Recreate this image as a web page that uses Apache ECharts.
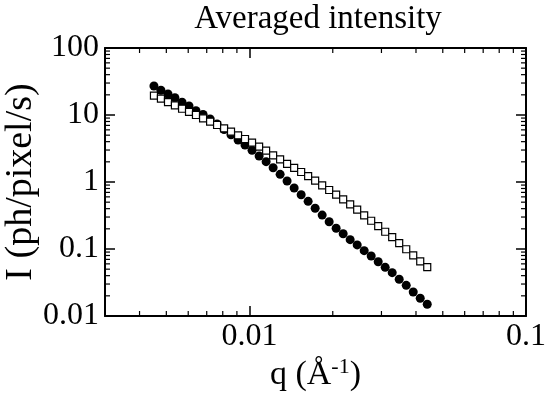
<!DOCTYPE html>
<html>
<head>
<meta charset="utf-8">
<script src="https://cdn.jsdelivr.net/npm/echarts@6/dist/echarts.min.js"></script>
<style>
  html, body { margin: 0; padding: 0; background: #fff; }
  #chart { width: 545px; height: 399px; }
</style>
</head>
<body>
<div id="chart"></div>
<script>
// q values (1/Å), shared by both series
const qValues = [
  0.00451, 0.00478, 0.00507, 0.00537, 0.00570, 0.00604, 0.00640, 0.00679, 0.00720, 0.00763,
  0.00809, 0.00857, 0.00909, 0.00963, 0.01021, 0.01083, 0.01148, 0.01217, 0.01290, 0.01367,
  0.01450, 0.01537, 0.01629, 0.01727, 0.01831, 0.01941, 0.02057, 0.02181, 0.02312, 0.02451,
  0.02598, 0.02754, 0.02920, 0.03095, 0.03281, 0.03478, 0.03688, 0.03909, 0.04144, 0.04393
];
// filled circles
const intensityFilled = [
  27.1, 23.4, 20.6, 18.1, 15.5, 13.6, 11.6, 10.2, 8.71, 7.34,
  6.08, 5.08, 4.24, 3.57, 2.97, 2.44, 2.01, 1.63, 1.30, 1.035,
  0.813, 0.646, 0.515, 0.405, 0.321, 0.255, 0.204, 0.169, 0.138, 0.115,
  0.0944, 0.0787, 0.0646, 0.0533, 0.0443, 0.0353, 0.0287, 0.0228, 0.0184, 0.0150
];
// open squares
const intensityOpen = [
  19.4, 17.5, 15.6, 13.96, 12.4, 11.1, 10.0, 8.93, 7.94, 7.09,
  6.33, 5.63, 4.98, 4.38, 3.86, 3.37, 2.93, 2.50, 2.17, 1.86,
  1.62, 1.41, 1.22, 1.045, 0.893, 0.760, 0.646, 0.552, 0.465, 0.386,
  0.318, 0.264, 0.220, 0.181, 0.150, 0.122, 0.0991, 0.0806, 0.0655, 0.0538
];
const xMin = 0.003, xMax = 0.1;
const yMin = 0.01, yMax = 100;
const xMajorLabels = [0.01, 0.1];
const yMajorLabels = [0.01, 0.1, 1, 10, 100];
const xMinorTicks = [0.004, 0.005, 0.006, 0.007, 0.008, 0.009,
  0.02, 0.03, 0.04, 0.05, 0.06, 0.07, 0.08, 0.09];
const yMinorTicks = [0.02, 0.03, 0.04, 0.05, 0.06, 0.07, 0.08, 0.09,
  0.2, 0.3, 0.4, 0.5, 0.6, 0.7, 0.8, 0.9,
  2, 3, 4, 5, 6, 7, 8, 9,
  20, 30, 40, 50, 60, 70, 80, 90];

const font = 'Liberation Serif';
const chart = echarts.init(document.getElementById('chart'));

function isLabel(list, v) {
  return list.some(t => Math.abs(Math.log10(t) - Math.log10(v)) < 1e-6);
}
function fmt(v) {
  return v >= 1 ? String(Math.round(v)) : String(+v.toPrecision(1));
}

const axisLine = { show: true, lineStyle: { color: '#000', width: 2 } };
const majorTick = { show: true, inside: true, length: 10, lineStyle: { color: '#000', width: 1.5 } };

const option = {
  animation: false,
  backgroundColor: '#fff',
  title: {
    text: 'Averaged intensity',
    left: 313,
    top: -2,
    textAlign: 'center',
    textStyle: { fontFamily: font, fontSize: 33, fontWeight: 'normal', color: '#000' }
  },
  grid: { left: 105, right: 19, top: 48, bottom: 83, outerBoundsMode: 'none', containLabel: false },
  xAxis: [
    {
      type: 'log', min: xMin, max: xMax, position: 'bottom',
      axisLine: axisLine, axisTick: majorTick, splitLine: { show: false },
      axisLabel: {
        fontFamily: font, fontSize: 32, color: '#000', margin: 5,
        formatter: v => isLabel(xMajorLabels, v) ? fmt(v) : ''
      },
      name: '{a|q (Å}{s|-1}{a|)}',
      nameLocation: 'middle',
      nameGap: 40,
      nameMoveOverlap: false,
      nameTextStyle: {
        rich: {
          a: { fontFamily: font, fontSize: 34, color: '#000' },
          s: { fontFamily: font, fontSize: 22, color: '#000', padding: [0, 0, 16, 0] }
        }
      }
    },
    {
      type: 'log', min: xMin, max: xMax, position: 'top',
      axisLine: axisLine, axisTick: majorTick, axisLabel: { show: false }, splitLine: { show: false }
    }
  ],
  yAxis: [
    {
      type: 'log', min: yMin, max: yMax, position: 'left',
      axisLine: axisLine, axisTick: majorTick, splitLine: { show: false },
      axisLabel: {
        fontFamily: font, fontSize: 32, color: '#000', margin: 6,
        formatter: v => isLabel(yMajorLabels, v) ? fmt(v) : ''
      },
      name: 'I (ph/pixel/s)',
      nameLocation: 'middle',
      nameGap: 65,
      nameMoveOverlap: false,
      nameTextStyle: { fontFamily: font, fontSize: 38, color: '#000' }
    },
    {
      type: 'log', min: yMin, max: yMax, position: 'right',
      axisLine: axisLine, axisTick: majorTick, axisLabel: { show: false }, splitLine: { show: false }
    }
  ],
  series: [
    {
      // minor x ticks, bottom and top
      type: 'custom',
      silent: true,
      clip: false,
      data: xMinorTicks.map(v => [v, yMin]),
      renderItem: function (params, api) {
        const q = api.value(0);
        const b = api.coord([q, yMin]);
        const t = api.coord([q, yMax]);
        const st = { stroke: '#000', lineWidth: 1.2 };
        return {
          type: 'group',
          children: [
            { type: 'line', shape: { x1: b[0], y1: b[1], x2: b[0], y2: b[1] - 5 }, style: st },
            { type: 'line', shape: { x1: t[0], y1: t[1], x2: t[0], y2: t[1] + 5 }, style: st }
          ]
        };
      }
    },
    {
      // minor y ticks, left and right
      type: 'custom',
      silent: true,
      clip: false,
      data: yMinorTicks.map(v => [xMin, v]),
      renderItem: function (params, api) {
        const v = api.value(1);
        const l = api.coord([xMin, v]);
        const r = api.coord([xMax, v]);
        const st = { stroke: '#000', lineWidth: 1.2 };
        return {
          type: 'group',
          children: [
            { type: 'line', shape: { x1: l[0], y1: l[1], x2: l[0] + 5, y2: l[1] }, style: st },
            { type: 'line', shape: { x1: r[0], y1: r[1], x2: r[0] - 5, y2: r[1] }, style: st }
          ]
        };
      }
    },
    {
      name: 'filled',
      type: 'scatter',
      symbol: 'circle',
      symbolSize: 9,
      itemStyle: { color: '#000', opacity: 1 },
      data: qValues.map((q, i) => [q, intensityFilled[i]])
    },
    {
      name: 'open',
      type: 'scatter',
      symbol: 'rect',
      symbolSize: 7,
      itemStyle: { color: '#fff', borderColor: '#000', borderWidth: 1.2, opacity: 1 },
      data: qValues.map((q, i) => [q, intensityOpen[i]])
    }
  ]
};

chart.setOption(option);
</script>
</body>
</html>
